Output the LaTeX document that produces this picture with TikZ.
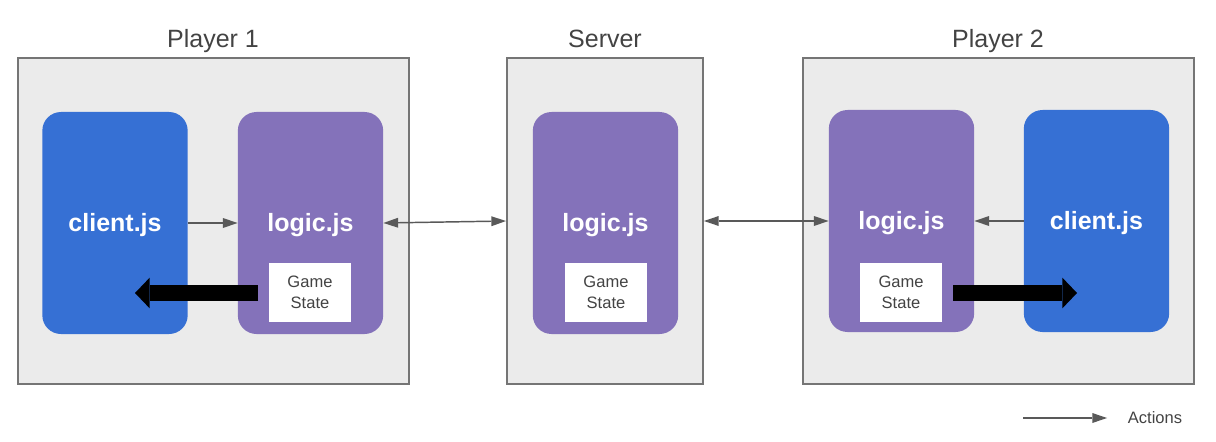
\documentclass[tikz,border=0pt]{standalone}
\usepackage{fontspec}
\setmainfont{Liberation Sans}
\usetikzlibrary{arrows.meta}

\definecolor{framefill}{HTML}{EBEBEB}
\definecolor{frameline}{HTML}{757575}
\definecolor{clientblue}{HTML}{3670D4}
\definecolor{logicpurple}{HTML}{8472BA}
\definecolor{textgrey}{HTML}{434343}
\definecolor{arrowgrey}{HTML}{595959}

\tikzset{
  frame/.style={draw=frameline, line width=1.5pt, fill=framefill, minimum height=244.5pt, inner sep=0pt},
  title/.style={anchor=base, text=textgrey, font=\fontsize{18.75}{22}\selectfont},
  client/.style={fill=clientblue, rounded corners=14pt, minimum width=109pt, minimum height=166.5pt, inner sep=0pt, text height=13pt, text depth=0pt, text=white, font=\fontsize{18.75}{22}\selectfont\bfseries},
  logic/.style={client, fill=logicpurple},
  state/.style={fill=white, minimum width=61.5pt, minimum height=44.25pt, inner sep=0pt, align=center, text=textgrey, font=\fontsize{12.4}{15.75}\selectfont},
  action/.style={draw=arrowgrey, line width=1.1pt, -{Triangle[length=11pt, width=7.5pt, line width=0pt]}},
  twoway/.style={draw=arrowgrey, line width=1.1pt, {Triangle[length=11pt, width=7.5pt, line width=0pt]}-{Triangle[length=11pt, width=7.5pt, line width=0pt]}},
  push/.style={draw=black, line width=12pt, -{Triangle[length=11pt, width=23pt, line width=0pt]}}
}

\begin{document}
\begin{tikzpicture}[x=0.75pt, y=-0.75pt]
    \useasboundingbox (0,0) rectangle (1216,442);

    % Left: player 1
    \node[frame, minimum width=293.25pt] (playerA) at (213.5,221) {};
    \node[title] (titleA) at (213,48) {Player 1};
    \node[client] (clientA) at (115,223) {client.js};
    \node[logic] (logicA) at (310.5,223) {logic.js};
    \node[state] (stateA) at (310,292.5) {Game\\State};

    % Middle: server
    \node[frame, minimum width=147pt] (server) at (605,221) {};
    \node[title] (titleS) at (605,48) {Server};
    \node[logic] (logicS) at (605.5,223) {logic.js};
    \node[state] (stateS) at (606,292.5) {Game\\State};

    % Right: player 2
    \node[frame, minimum width=293.25pt] (playerB) at (998.5,221) {};
    \node[title] (titleB) at (998,48) {Player 2};
    \node[logic] (logicB) at (901.5,221) {logic.js};
    \node[client] (clientB) at (1096.5,221) {client.js};
    \node[state] (stateB) at (901,292) {Game\\State};

    % Actions
    \draw[action] (clientA.east) -- (logicA.west);
    \draw[action] (clientB.west) -- (logicB.east);
    \draw[twoway] (logicA.east) -- (server.west);
    \draw[twoway] (server.east) -- (logicB.west);

    % State pushed back to the clients
    \coordinate (fromA) at (258,293);
    \coordinate (toA) at (135,293);
    \coordinate (fromB) at (953,293);
    \coordinate (toB) at (1077,293);
    \draw[push] (fromA) -- (toA);
    \draw[push] (fromB) -- (toB);

    % Legend
    \coordinate (keyL) at (1023,418);
    \coordinate (keyR) at (1107,418);
    \draw[action] (keyL) -- (keyR);
    \node[text=textgrey, font=\fontsize{12.4}{15}\selectfont] (keyText) at (1155,418) {Actions};

  \end{tikzpicture}
\end{document}
